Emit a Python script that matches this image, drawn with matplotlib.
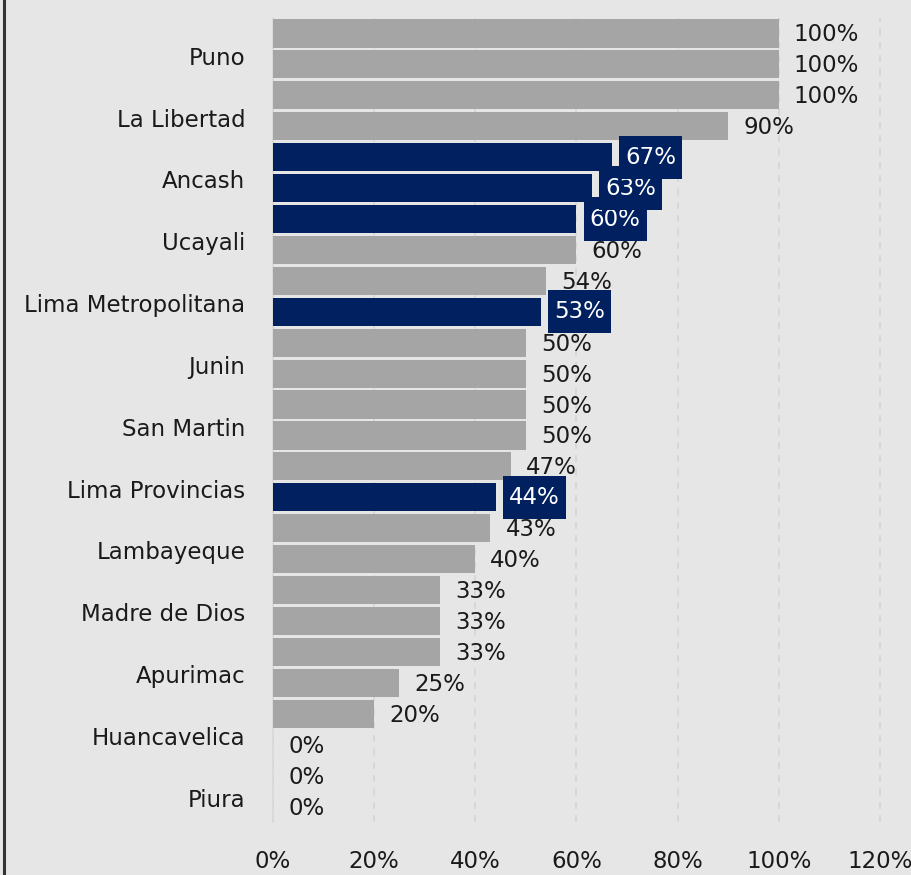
import matplotlib
matplotlib.use("Agg")
import matplotlib.pyplot as plt
from matplotlib.lines import Line2D
from matplotlib.transforms import offset_copy

plt.rcParams['font.family'] = ['DejaVu Sans']

# ------------------------------- data (top to bottom)
regions = ['Puno', 'La Libertad', 'Ancash', 'Ucayali', 'Lima Metropolitana',
           'Junin', 'San Martin', 'Lima Provincias', 'Lambayeque',
           'Madre de Dios', 'Apurimac', 'Huancavelica', 'Piura']
values = [100, 100, 100, 90, 67, 63, 60, 60, 54, 53, 50, 50, 50, 50,
          47, 44, 43, 40, 33, 33, 33, 25, 20, 0, 0, 0]
highlight = [0, 0, 0, 0, 1, 1, 1, 0, 0, 1, 0, 0, 0, 0,
             0, 1, 0, 0, 0, 0, 0, 0, 0, 0, 0, 0]
xticks = [0, 20, 40, 60, 80, 100, 120]

GRAY = '#a5a5a5'
NAVY = '#002060'
BG = '#e6e6e6'
TXT = '#1a1a1a'
FS = 16.5

W, H = 912, 875
fig = plt.figure(figsize=(W / 100, H / 100), dpi=100, facecolor=BG)
ax = fig.add_axes([273 / W, (H - 822) / H, (885 - 273) / W, 804 / H])
ax.set_facecolor(BG)

pos = list(range(len(values)))
colors = [NAVY if h else GRAY for h in highlight]
ax.barh(pos, values, height=0.91, color=colors, edgecolor='none', zorder=3)

ax.set_xlim(0, 121)
ax.set_ylim(len(values) - 0.5, -0.5)

# grid
ax.set_xticks(xticks)
ax.set_xticklabels([f'{t}%' for t in xticks])
ax.xaxis.grid(True, linestyle=(0, (4, 4)), color='#d4d4d4', linewidth=1.2, zorder=0)
ax.set_axisbelow(True)
for s in ['top', 'right', 'bottom']:
    ax.spines[s].set_visible(False)
ax.spines['left'].set_color('#d8d8d8')
ax.spines['left'].set_linewidth(1.2)

# y labels on every other bar, sitting a little above it
ax.set_yticks([p - 0.28 for p in pos[1::2]])
ax.set_yticklabels(regions)
ax.tick_params(axis='both', length=0, labelsize=FS, colors=TXT)
ax.tick_params(axis='y', pad=20)
ax.tick_params(axis='x', pad=20)

# value labels
gap = 1.4      # box starts this far past the bar end (data units)
box_w = 12.5   # label box width (data units)
for i, (v, h) in enumerate(zip(values, highlight)):
    if h:
        z = 10 + (len(values) - i) * 2
        ax.barh(i, box_w, left=v + gap, height=1.4, color=NAVY, zorder=z)
        ax.text(v + gap + box_w / 2, i, f'{v}%', ha='center', va='center',
                fontsize=FS, color='white', zorder=z + 1)
    else:
        tr = offset_copy(ax.transData, fig=fig, x=15 * 0.72, y=-1.5 * 0.72, units='points')
        ax.text(v, i, f'{v}%', transform=tr, ha='left', va='center',
                fontsize=FS, color=TXT, zorder=5)

# left frame line
fig.add_artist(Line2D([4 / W, 4 / W], [0, 1], color='#333333', linewidth=2.2))

fig.savefig('out.png', dpi=100, facecolor=BG)
